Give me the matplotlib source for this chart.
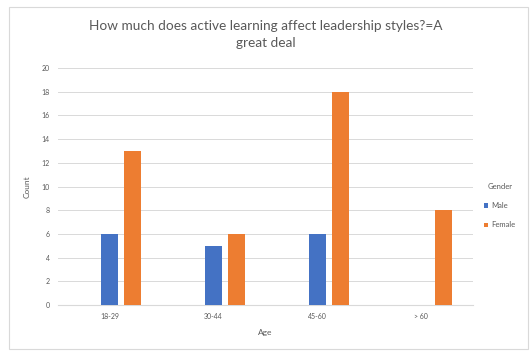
import numpy as np
import matplotlib.pyplot as plt
from matplotlib.patches import Rectangle

plt.rcParams['font.family'] = ['Lato', 'DejaVu Sans']

ages = ["18-29", "30-44", "45-60", "> 60"]
male = [6, 5, 6, 0]
female = [13, 6, 18, 8]
yticks = list(range(0, 21, 2))

blue = "#4472C4"
orange = "#ED7D31"
txt = "#595959"

fig = plt.figure(figsize=(5.32, 3.54), dpi=100)
fig.patches.append(Rectangle((0.016, 0.015), 0.976, 0.965, transform=fig.transFigure,
                             fill=False, edgecolor="#d9d9d9", linewidth=0.8))
ax = fig.add_axes([0.109, 0.138, 0.78, 0.670])

x = np.arange(len(ages))
w = 0.165
ax.bar(x, male, w, color=blue, label="Male", zorder=3)
ax.bar(x + 0.22, female, w, color=orange, label="Female", zorder=3)

ax.set_xlim(-0.5, 3.5)
ax.set_ylim(0, 20)
ax.set_yticks(yticks)
ax.set_xticks(x)
ax.set_xticklabels(ages)
ax.tick_params(length=0, labelsize=5, colors=txt, pad=6)
ax.grid(axis="y", color="#d9d9d9", linewidth=0.7, zorder=0)
for s in ["top", "right", "left"]:
    ax.spines[s].set_visible(False)
ax.spines["bottom"].set_color("#d9d9d9")

ax.set_ylabel("Count", fontsize=6, color=txt, labelpad=8)
ax.set_xlabel("Age", fontsize=6, color=txt, labelpad=6)

fig.text(0.5, 0.903, "How much does active learning affect leadership styles?=A\ngreat deal",
         ha="center", va="center", fontsize=9.8, color=txt, linespacing=1.55)

leg = ax.legend(title="Gender", loc="center left", bbox_to_anchor=(1.01, 0.42),
                frameon=False, fontsize=5.5, title_fontsize=5.5,
                handlelength=0.5, handleheight=0.5, handletextpad=0.5, labelspacing=1.6)
leg._legend_box.sep = 9
for t in leg.get_texts():
    t.set_color(txt)
leg.get_title().set_color(txt)

fig.savefig("out.png", dpi=100)
